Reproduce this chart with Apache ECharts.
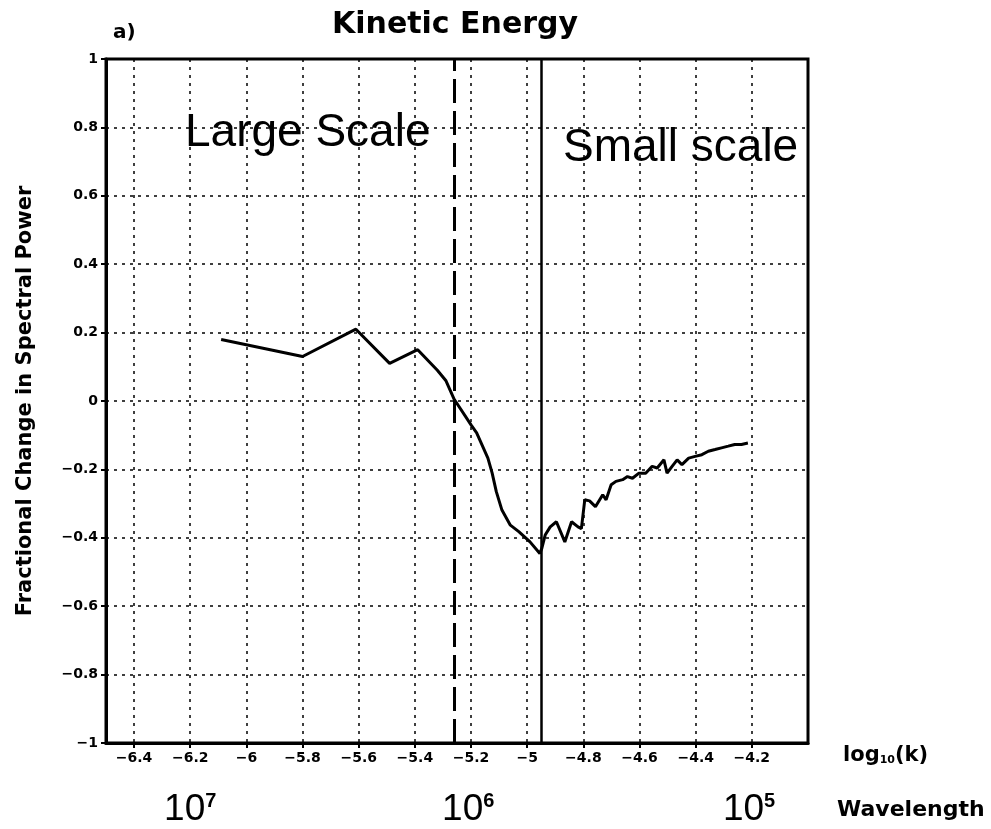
<!DOCTYPE html>
<html>
<head>
<meta charset="utf-8">
<title>Kinetic Energy</title>
<script src="https://cdn.jsdelivr.net/npm/echarts@6/dist/echarts.min.js"></script>
<style>
  * { margin: 0; padding: 0; }
  body { background: #fff; }
  #main { width: 991px; height: 829px; }
</style>
</head>
<body>
<div id="main"></div>
<script>
// log10(k) of each spectral point
var logK = [-6.09, -5.80, -5.61, -5.49, -5.39, -5.32, -5.29, -5.26, -5.20, -5.18,
  -5.14, -5.125, -5.11, -5.09, -5.06, -5.03, -4.99, -4.955, -4.948, -4.936,
  -4.918, -4.896, -4.866, -4.842, -4.819, -4.807, -4.795, -4.778, -4.757, -4.731,
  -4.719, -4.701, -4.684, -4.66, -4.643, -4.625, -4.602, -4.578, -4.555, -4.537,
  -4.513, -4.502, -4.484, -4.466, -4.449, -4.425, -4.402, -4.378, -4.355, -4.331,
  -4.308, -4.284, -4.261, -4.237, -4.214];
// fractional change in spectral power
var power = [0.18, 0.13, 0.21, 0.11, 0.15, 0.09, 0.06, 0.005, -0.07, -0.093,
  -0.167, -0.21, -0.265, -0.319, -0.363, -0.382, -0.412, -0.446, -0.431, -0.392,
  -0.368, -0.353, -0.412, -0.353, -0.368, -0.373, -0.289, -0.292, -0.309, -0.274,
  -0.289, -0.245, -0.235, -0.230, -0.221, -0.226, -0.211, -0.211, -0.191, -0.196,
  -0.172, -0.211, -0.191, -0.172, -0.186, -0.167, -0.162, -0.157, -0.147, -0.142,
  -0.137, -0.132, -0.127, -0.127, -0.123];

var xTicks = [-6.4, -6.2, -6.0, -5.8, -5.6, -5.4, -5.2, -5.0, -4.8, -4.6, -4.4, -4.2];
var wavelengthPos = [-6.20, -5.21, -4.21];
var wavelengthExp = ['7', '6', '5'];
var scaleSplit = -5.258;   // dashed line
var smallLimit = -4.945;   // solid line

function numLabel(v) {
    var s = String(Math.round(v * 10) / 10);
    return s.replace('-', '\u2212');
}

var chart = echarts.init(document.getElementById('main'));
chart.setOption({
    animation: false,
    backgroundColor: '#fff',
    grid: {
        left: 106, right: 183, top: 59, bottom: 86,
        show: true, borderColor: '#000', borderWidth: 3,
        outerBoundsMode: 'none'
    },
    xAxis: [{
        type: 'value', min: -6.5, max: -4.0,
        axisLine: { onZero: false, lineStyle: { color: '#000', width: 3 } },
        axisTick: { customValues: xTicks, length: 5, lineStyle: { color: '#000', width: 2 } },
        axisLabel: {
            customValues: xTicks, margin: 8, formatter: numLabel,
            color: '#000', fontFamily: 'DejaVu Sans', fontWeight: 'bold', fontSize: 14
        },
        splitLine: { show: true, lineStyle: { color: '#000', width: 1.5, type: [3, 5] } }
    }, {
        type: 'value', min: -6.5, max: -4.0, position: 'bottom', offset: 42,
        axisLine: { show: false, onZero: false }, axisTick: { show: false }, splitLine: { show: false },
        axisLabel: {
            customValues: wavelengthPos, margin: 6,
            formatter: function (v) {
                var i = 0;
                for (var j = 0; j < wavelengthPos.length; j++) {
                    if (Math.abs(wavelengthPos[j] - v) < 0.01) i = j;
                }
                return '{b|10}{s|' + wavelengthExp[i] + '}';
            },
            rich: {
                b: { fontFamily: 'Liberation Sans', fontSize: 37, color: '#000' },
                s: { fontFamily: 'Liberation Sans', fontSize: 20, fontWeight: 'bold', color: '#000', verticalAlign: 'top' }
            }
        }
    }],
    yAxis: {
        type: 'value', min: -1, max: 1, interval: 0.2,
        name: 'Fractional Change in Spectral Power',
        nameLocation: 'middle', nameGap: 70,
        nameTextStyle: { fontFamily: 'DejaVu Sans', fontWeight: 'bold', fontSize: 21, color: '#000' },
        axisLine: { onZero: false, lineStyle: { color: '#000', width: 3 } },
        axisTick: { length: 5, lineStyle: { color: '#000', width: 2 } },
        axisLabel: {
            margin: 8, formatter: numLabel,
            color: '#000', fontFamily: 'DejaVu Sans', fontWeight: 'bold', fontSize: 14
        },
        splitLine: { show: true, lineStyle: { color: '#000', width: 1.5, type: [3, 5] } }
    },
    graphic: [
        { type: 'text', left: 457 - 125, top: 10, style: { text: 'Kinetic Energy', font: 'bold 30px "DejaVu Sans"', fill: '#000' } },
        { type: 'text', left: 113, top: 23, style: { text: 'a)', font: 'bold 20px "DejaVu Sans"', fill: '#000' } },
        { type: 'text', left: 185, top: 110, style: { text: 'Large Scale', font: '46px "Liberation Sans"', fill: '#000' } },
        { type: 'text', left: 563, top: 125, style: { text: 'Small scale', font: '46px "Liberation Sans"', fill: '#000' } },
        {
            type: 'text', left: 843, top: 745,
            style: {
                text: '{a|log}{s|10}{a|(k)}',
                rich: {
                    a: { font: 'bold 21px "DejaVu Sans"', fill: '#000' },
                    s: { font: 'bold 11px "DejaVu Sans"', fill: '#000', verticalAlign: 'bottom' }
                }
            }
        },
        { type: 'text', left: 837, top: 799, style: { text: 'Wavelength', font: 'bold 22px "DejaVu Sans"', fill: '#000' } }
    ],
    series: [{
        type: 'line',
        data: logK.map(function (k, i) { return [k, power[i]]; }),
        showSymbol: false,
        lineStyle: { color: '#000', width: 3 },
        markLine: {
            silent: true,
            symbol: ['none', 'none'],
            label: { show: false },
            data: [
                { xAxis: scaleSplit, lineStyle: { color: '#000', width: 3, type: [24, 8] } },
                { xAxis: smallLimit, lineStyle: { color: '#000', width: 2.5, type: 'solid' } }
            ]
        }
    }]
});
</script>
</body>
</html>
